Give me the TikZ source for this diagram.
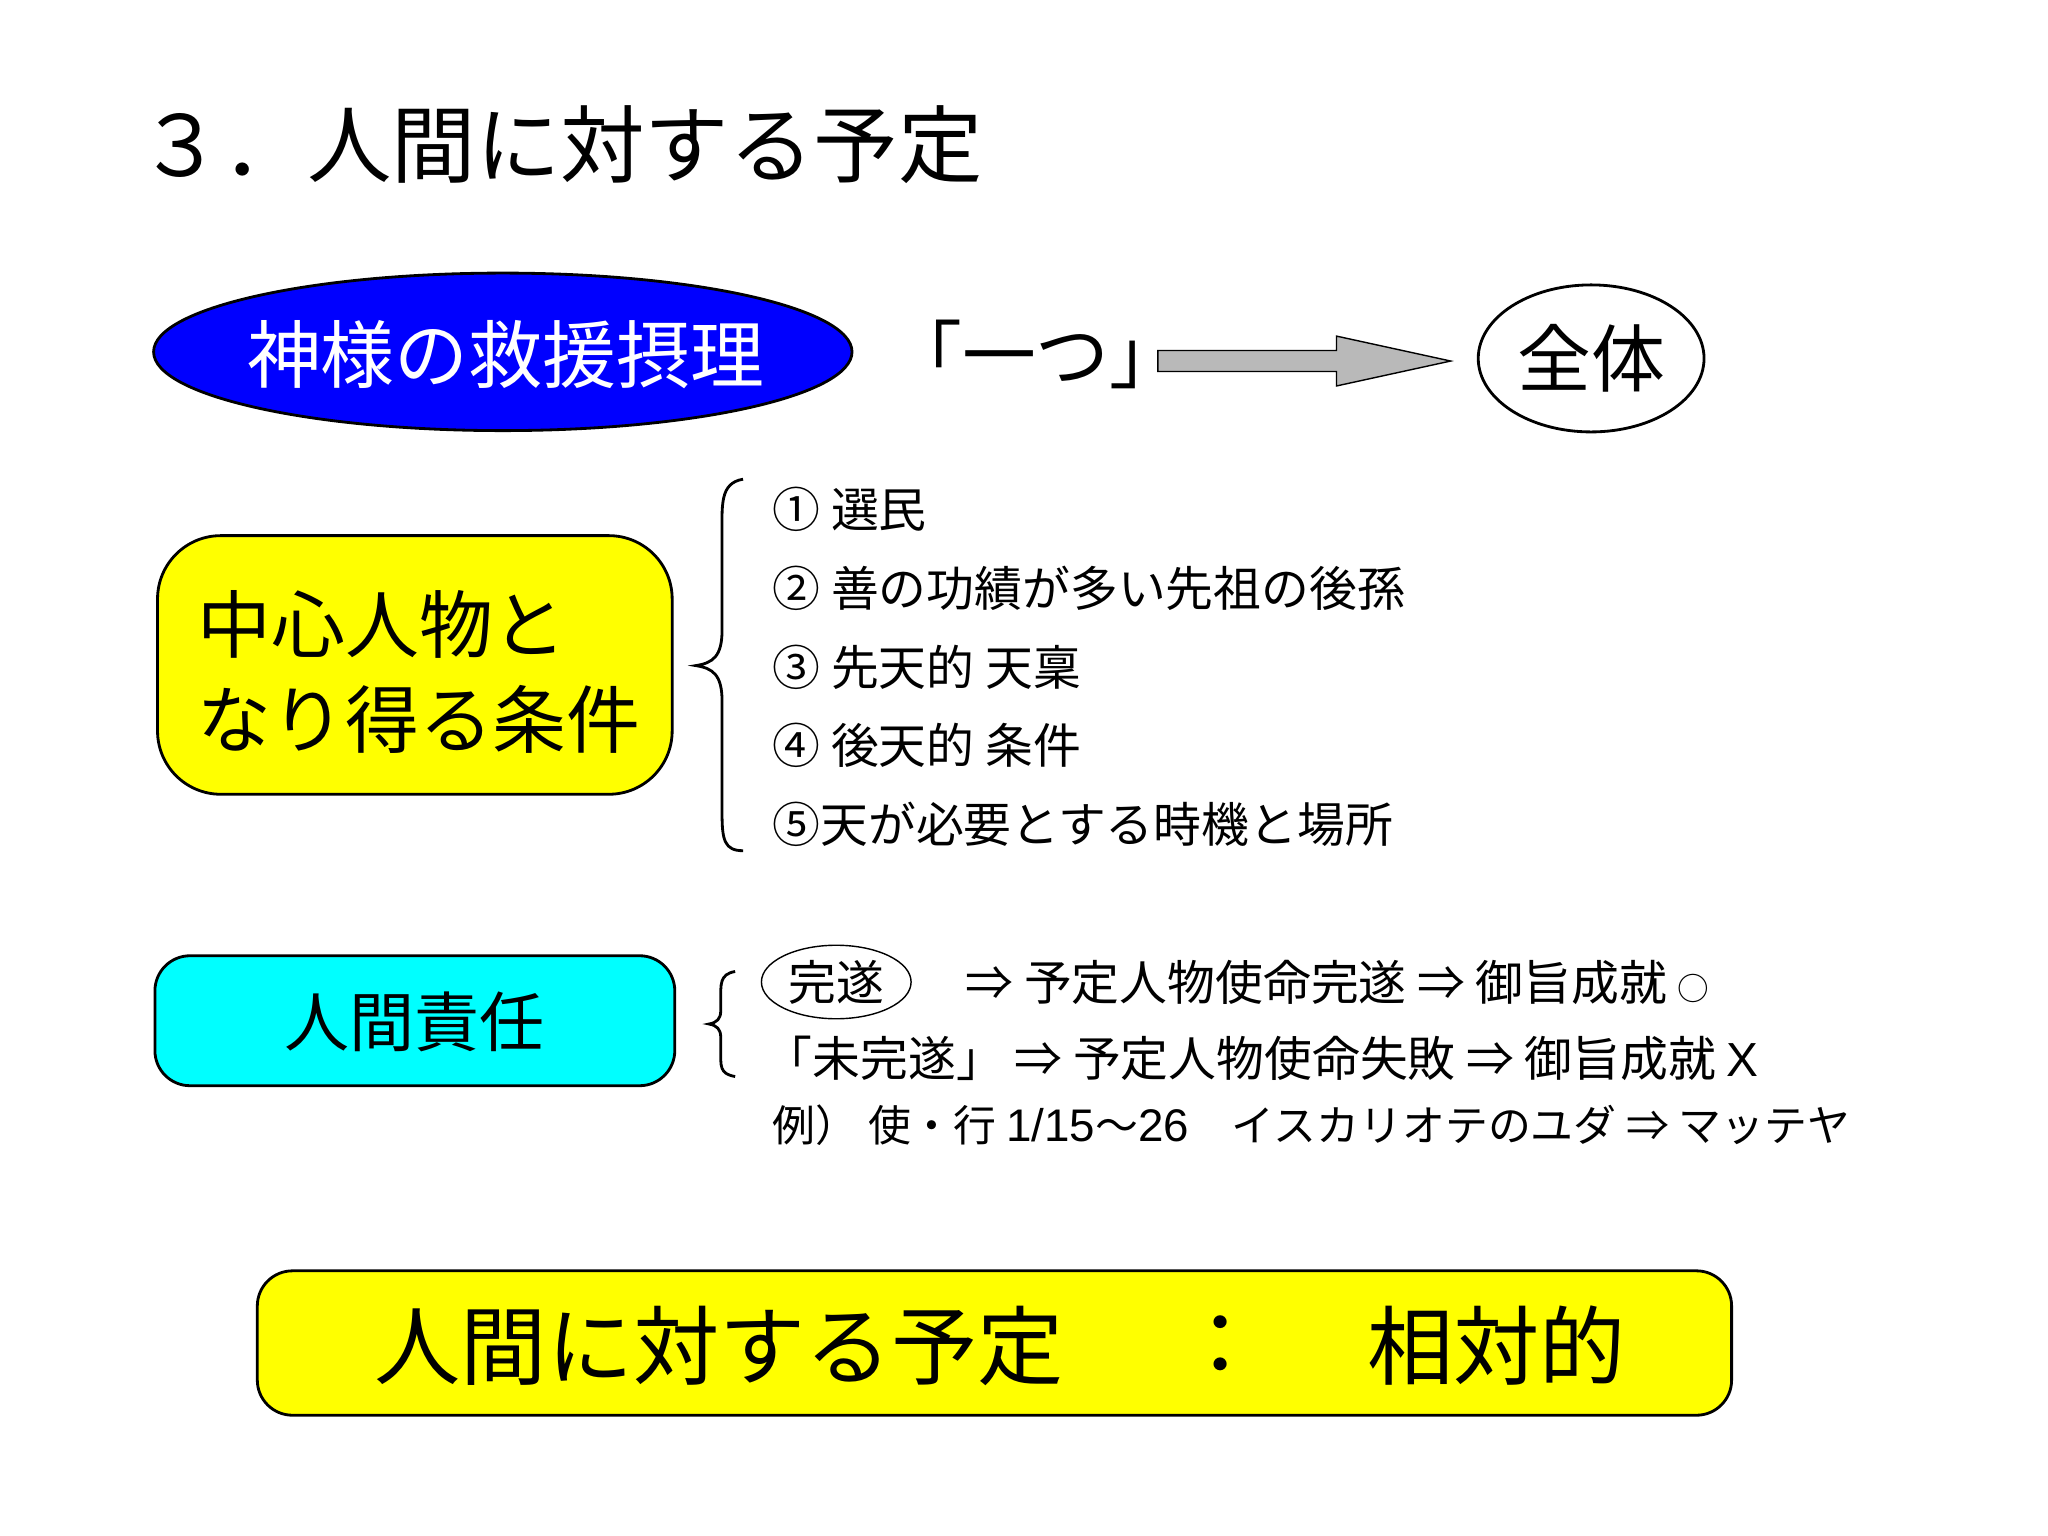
\documentclass[tikz,border=0pt]{standalone}
\usepackage{fontspec}
\setmainfont{Liberation Sans}
\newfontfamily\jp{Noto Sans CJK JP}
\usetikzlibrary{shapes.geometric}
\definecolor{cy}{RGB}{0,255,255}
\definecolor{yl}{RGB}{255,255,0}
\definecolor{bl}{RGB}{0,0,255}
\begin{document}
\begin{tikzpicture}[x=0.013128cm,y=-0.013128cm,
  txt/.style={inner sep=0pt,font=\jp},
  rbox/.style={draw=black,thick,rounded corners=18pt}]
\useasboundingbox (0,0) rectangle (1560,1170);
\node[txt,anchor=west,font=\jp\fontsize{24}{28}\selectfont] (title) at (105,110) {３．人間に対する予定};
\draw[thick,fill=bl] (383,268) ellipse [x radius=266,y radius=60];
\node[txt,text=white,font=\jp\fontsize{21}{25}\selectfont] (kyu) at (385,270) {神様の救援摂理};
\node[txt,anchor=west,font=\jp\fontsize{21}{25}\selectfont] (one) at (676,270) {「一つ」};
\draw[fill=gray!55,line join=miter] (882,267) -- (1018,267) -- (1018,256) -- (1105,275) -- (1018,294) -- (1018,283) -- (882,283) -- cycle;
\node[draw,thick,ellipse,minimum width=172*0.013128cm,minimum height=112*0.013128cm,inner sep=0pt,font=\jp\fontsize{21}{25}\selectfont] (zen) at (1212,273) {全体};
\draw[rbox,fill=yl] (120,408) rectangle (512,605);
\node[txt,anchor=west,align=left,font=\jp\fontsize{21}{27}\selectfont] (chu) at (150,512) {中心人物と\\なり得る条件};
\draw[thick] (566,365) .. controls (548,368) and (550,385) .. (550,410) -- (550,480) .. controls (550,500) and (543,505) .. (530,507) .. controls (543,509) and (550,514) .. (550,534) -- (550,620) .. controls (550,640) and (552,648) .. (566,648);
\foreach \t [count=\i] in {① 選民,② 善の功績が多い先祖の後孫,③ 先天的 天稟,④ 後天的 条件,⑤天が必要とする時機と場所}
  \node[txt,anchor=west,font=\jp\fontsize{13.6}{16}\selectfont] (l\i) at (588,328+60*\i) {\t};
\draw[rbox,fill=cy,rounded corners=10pt] (118,728) rectangle (514,827);
\node[txt,font=\jp\fontsize{18.5}{22}\selectfont] (sek) at (316,778) {人間責任};
\draw[thick] (560,740) .. controls (548,742) and (549,750) .. (549,762) -- (549,770) .. controls (549,776) and (546,779) .. (540,780) .. controls (546,781) and (549,784) .. (549,790) -- (549,800) .. controls (549,812) and (548,818) .. (560,820);
\node[draw,ellipse,minimum width=114*0.013128cm,minimum height=56*0.013128cm,inner sep=0pt,font=\jp\fontsize{13.6}{16}\selectfont] (kan) at (637,748) {完遂};
\node[txt,anchor=west,font=\jp\fontsize{13.6}{16}\selectfont] (r1) at (735,748) {⇒ 予定人物使命完遂 ⇒ 御旨成就 {\fontsize{9}{10}\selectfont ○}};
\node[txt,anchor=west,font=\jp\fontsize{13.6}{16}\selectfont] (r2) at (582,806) {「未完遂」 ⇒ 予定人物使命失敗 ⇒ 御旨成就 {\rmfamily X}};
\node[txt,anchor=west,font=\jp\fontsize{12.2}{14}\selectfont] (r3) at (588,857) {例）  使・行 {\rmfamily\fontsize{13}{15}\selectfont 1/15}～{\rmfamily\fontsize{13}{15}\selectfont 26}　イスカリオテのユダ ⇒ マッテヤ};
\draw[rbox,fill=yl,rounded corners=10pt] (196,968) rectangle (1319,1078);
\node[txt,font=\jp\fontsize{24.5}{28}\selectfont] (b1) at (548,1025) {人間に対する予定};
\node[txt,font=\jp\fontsize{24.5}{28}\selectfont] (b2) at (930,1025) {：};
\node[txt,font=\jp\fontsize{24.5}{28}\selectfont] (b3) at (1140,1025) {相対的};
\end{tikzpicture}
\end{document}
